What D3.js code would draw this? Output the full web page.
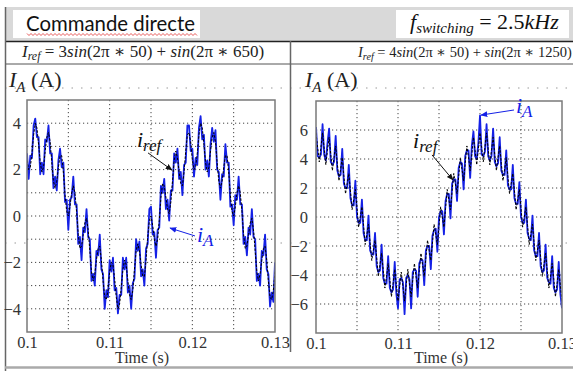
<!DOCTYPE html>
<html>
<head>
<meta charset="utf-8">
<script src="https://cdn.jsdelivr.net/npm/d3@7"></script>
<style>
  html, body { margin: 0; padding: 0; background: #fff; }
  svg { display: block; }
</style>
</head>
<body>
<svg id="chart" width="573" height="371"></svg>
<script>
  // sampling of the traces: t = 0.1 s + i * 0.2 ms
  const T0 = 0.1;
  const DT = 0.0002;

  const xTicks = [0.1, 0.11, 0.12, 0.13];
  const xGrid = [0.105, 0.11, 0.115, 0.12, 0.125];
  const leftYTicks = [-4, -2, 0, 2, 4];
  const leftYGrid = [-4, -3, -2, -1, 0, 1, 2, 3, 4];
  const rightYTicks = [-6, -4, -2, 0, 2, 4, 6];

  // left panel : reference current and measured current (A)
  const leftRef = [
    2.4, 2.0, 2.1, 2.7, 3.5, 4.0, 3.8, 3.1, 2.3, 1.9,
    2.1, 2.8, 3.4, 3.6, 3.2, 2.3, 1.5, 1.2, 1.5, 2.1,
    2.6, 2.6, 1.9, 0.9, 0.2, 0.0, 0.4, 1.0, 1.3, 1.0,
    0.2, -0.8, -1.4, -1.3, -0.8, -0.3, -0.1, -0.6, -1.5, -2.4,
    -2.8, -2.5, -1.9, -1.4, -1.3, -1.9, -2.8, -3.5, -3.6, -3.2,
    -2.4, -2.0, -2.1, -2.7, -3.5, -4.0, -3.8, -3.1, -2.3, -1.9,
    -2.1, -2.8, -3.4, -3.6, -3.2, -2.3, -1.5, -1.2, -1.5, -2.1,
    -2.6, -2.6, -1.9, -0.9, -0.2, 0.0, -0.4, -1.0, -1.3, -1.0,
    -0.2, 0.8, 1.4, 1.3, 0.8, 0.3, 0.1, 0.6, 1.5, 2.4,
    2.8, 2.5, 1.9, 1.4, 1.3, 1.9, 2.8, 3.5, 3.6, 3.2,
    2.4, 2.0, 2.1, 2.7, 3.5, 4.0, 3.8, 3.1, 2.3, 1.9,
    2.1, 2.8, 3.4, 3.6, 3.2, 2.3, 1.5, 1.2, 1.5, 2.1,
    2.6, 2.6, 1.9, 0.9, 0.2, 0.0, 0.4, 1.0, 1.3, 1.0,
    0.2, -0.8, -1.4, -1.3, -0.8, -0.3, -0.1, -0.6, -1.5, -2.4,
    -2.8, -2.5, -1.9, -1.4, -1.3, -1.9, -2.8, -3.5, -3.6, -3.2,
    -2.4
  ];
  const leftMeas = [
    2.7, 1.6, 2.6, 2.5, 3.9, 4.2, 3.4, 3.4, 1.8, 2.3,
    1.8, 3.3, 3.2, 3.9, 2.7, 2.7, 1.2, 1.7, 1.1, 2.4,
    2.9, 2.1, 2.3, 0.6, 0.7, -0.6, 0.7, 0.8, 1.7, 0.5,
    0.5, -1.2, -0.9, -1.9, -0.5, -0.7, 0.3, -0.9, -1.0, -2.8,
    -2.5, -3.0, -1.5, -1.7, -0.8, -2.3, -2.5, -4.0, -3.2, -3.5,
    -1.9, -2.4, -1.8, -3.2, -3.1, -4.2, -3.4, -3.4, -1.8, -2.3,
    -1.8, -3.3, -3.0, -4.0, -2.9, -2.7, -1.0, -1.5, -1.1, -2.6,
    -2.3, -3.0, -1.4, -1.2, 0.3, 0.4, -0.8, -0.7, -1.8, -0.6,
    -0.5, 1.3, 1.0, 1.6, 0.3, 0.7, -0.2, 1.1, 1.1, 2.7,
    2.3, 2.9, 1.6, 1.9, 0.9, 2.2, 2.3, 3.9, 3.9, 2.8,
    2.9, 1.7, 2.5, 2.2, 3.8, 4.3, 3.3, 3.5, 2.0, 2.4,
    1.7, 3.1, 3.8, 3.2, 3.7, 2.0, 1.9, 0.7, 1.8, 1.7,
    3.1, 2.3, 2.3, 0.4, 0.5, -0.4, 0.9, 0.7, 1.7, 0.5,
    0.5, -1.2, -0.9, -1.7, -0.5, -0.8, 0.3, -0.9, -1.0, -2.8,
    -2.5, -3.0, -1.5, -1.7, -0.8, -2.3, -2.5, -3.9, -3.3, -3.7,
    -2.0
  ];

  // right panel
  const rightRef = [
    5.8, 4.8, 3.8, 4.8, 5.8, 4.7, 3.6, 4.6, 5.5, 4.3,
    3.2, 4.1, 4.9, 3.7, 2.5, 3.3, 4.1, 2.8, 1.6, 2.3,
    3.0, 1.8, 0.5, 1.2, 1.9, 0.6, -0.7, 0.0, 0.7, -0.6,
    -1.9, -1.2, -0.5, -1.8, -3.0, -2.3, -1.6, -2.8, -4.1, -3.3,
    -2.5, -3.7, -4.9, -4.1, -3.2, -4.3, -5.5, -4.6, -3.6, -4.7,
    -5.8, -4.8, -3.8, -4.8, -5.8, -4.7, -3.6, -4.6, -5.5, -4.3,
    -3.2, -4.1, -4.9, -3.7, -2.5, -3.3, -4.1, -2.8, -1.6, -2.3,
    -3.0, -1.8, -0.5, -1.2, -1.9, -0.6, 0.7, 0.0, -0.7, 0.6,
    1.9, 1.2, 0.5, 1.8, 3.0, 2.3, 1.6, 2.8, 4.1, 3.3,
    2.5, 3.7, 4.9, 4.1, 3.2, 4.3, 5.5, 4.6, 3.6, 4.7,
    5.8, 4.8, 3.8, 4.8, 5.8, 4.7, 3.6, 4.6, 5.5, 4.3,
    3.2, 4.1, 4.9, 3.7, 2.5, 3.3, 4.1, 2.8, 1.6, 2.3,
    3.0, 1.8, 0.5, 1.2, 1.9, 0.6, -0.7, 0.0, 0.7, -0.6,
    -1.9, -1.2, -0.5, -1.8, -3.0, -2.3, -1.6, -2.8, -4.1, -3.3,
    -2.5, -3.7, -4.9, -4.1, -3.2, -4.3, -5.5, -4.6, -3.6, -4.7,
    -5.8
  ];
  const rightMeas = [
    6.2, 4.2, 4.1, 4.3, 6.4, 4.3, 3.9, 5.1, 6.1, 3.8,
    3.6, 3.8, 5.6, 3.2, 2.8, 2.9, 4.7, 2.3, 2.0, 2.0,
    3.6, 1.3, 0.8, 0.8, 2.5, 0.0, -0.4, -0.4, 1.2, -1.1,
    -1.6, -1.6, 0.1, -2.3, -2.6, -2.6, -1.1, -3.4, -3.8, -3.7,
    -1.9, -4.2, -4.6, -4.6, -2.7, -4.9, -5.2, -5.0, -3.1, -5.3,
    -6.3, -4.3, -4.2, -4.5, -6.7, -4.2, -4.0, -4.3, -6.3, -3.8,
    -3.6, -3.7, -5.5, -3.2, -2.9, -3.0, -4.7, -2.3, -2.0, -2.0,
    -3.6, -1.3, -0.9, -0.8, -2.4, 0.0, 0.4, 0.4, -1.2, 1.1,
    1.6, 1.6, -0.1, 2.3, 2.6, 2.6, 1.1, 3.4, 3.8, 3.7,
    1.9, 4.2, 4.6, 4.6, 2.7, 4.9, 5.9, 4.2, 4.0, 5.1,
    7.0, 4.3, 4.2, 4.5, 6.4, 4.2, 3.9, 4.2, 6.1, 3.8,
    3.5, 3.7, 5.5, 3.2, 2.9, 2.9, 4.6, 2.2, 1.9, 1.9,
    3.6, 1.3, 0.9, 0.9, 2.4, 0.0, -0.4, -0.4, 1.2, -1.1,
    -1.5, -1.6, 0.1, -2.3, -2.7, -2.7, -1.1, -3.4, -3.8, -3.7,
    -1.9, -4.2, -4.5, -4.6, -2.7, -4.9, -5.2, -5.0, -3.1, -5.3,
    -6.3
  ];

  const BLUE = '#1420e6';
  const SERIF = "'Liberation Serif', 'DejaVu Serif', serif";

  const svg = d3.select('#chart');

  const defs = svg.append('defs');
  [['arrow-k', '#111'], ['arrow-b', BLUE]].forEach(([id, col]) => {
    defs.append('marker')
      .attr('id', id)
      .attr('viewBox', '0 0 10 10')
      .attr('refX', 9).attr('refY', 5)
      .attr('markerWidth', 7).attr('markerHeight', 7)
      .attr('orient', 'auto')
      .append('path')
      .attr('d', 'M0,1 L10,5 L0,9 Z')
      .attr('fill', col);
  });

  // ---- table frame (header row, formula row) ----
  svg.append('rect')
    .attr('x', 5).attr('y', 7).attr('width', 568).attr('height', 34)
    .attr('fill', '#d9d9d9');
  svg.append('rect')
    .attr('x', 13).attr('y', 10).attr('width', 187).attr('height', 28)
    .attr('fill', '#fff');
  svg.append('rect')
    .attr('x', 396).attr('y', 10).attr('width', 173).attr('height', 28)
    .attr('fill', '#fff');

  svg.append('text')
    .attr('x', 26).attr('y', 31)
    .attr('textLength', 169).attr('lengthAdjust', 'spacingAndGlyphs')
    .style('font-family', "Lato, 'Open Sans', sans-serif")
    .style('font-size', '21px')
    .style('fill', '#111')
    .text('Commande directe');

  // spell-check underline
  const wave = d3.range(27, 198, 2).map((xx, k) => [xx, 34.5 + (k % 2 ? 1 : -1)]);
  svg.append('path')
    .attr('d', d3.line()(wave))
    .attr('fill', 'none')
    .attr('stroke', '#e03030')
    .attr('stroke-width', 0.8);

  const fsw = svg.append('text')
    .attr('x', 410).attr('y', 29)
    .style('font-family', SERIF)
    .style('font-size', '22px')
    .style('fill', '#111');
  fsw.append('tspan').style('font-style', 'italic').text('f');
  fsw.append('tspan').attr('dy', 4).style('font-style', 'italic').style('font-size', '15px').text('switching');
  fsw.append('tspan').attr('dy', -4).text(' = 2.5');
  fsw.append('tspan').style('font-style', 'italic').text('kHz');

  function formula(x0, size, amp, harm) {
    const t = svg.append('text')
      .attr('x', x0).attr('y', 57)
      .style('font-family', SERIF)
      .style('font-size', size + 'px')
      .style('fill', '#222');
    t.append('tspan').style('font-style', 'italic').text('I');
    t.append('tspan').attr('dy', 3).style('font-style', 'italic').style('font-size', (size * 0.7) + 'px').text('ref');
    t.append('tspan').attr('dy', -3).text(' = ' + amp);
    t.append('tspan').style('font-style', 'italic').text('sin');
    t.append('tspan').text('(2π ∗ 50) + ');
    t.append('tspan').style('font-style', 'italic').text('sin');
    t.append('tspan').text('(2π ∗ ' + harm + ')');
  }
  formula(22, 17, '3', '650');
  formula(358, 14.5, '4', '1250');

  // faint dotted grid of the document table
  [88, 243].forEach(yy => {
    svg.append('line')
      .attr('x1', 5).attr('x2', 573).attr('y1', yy).attr('y2', yy)
      .attr('stroke', '#999')
      .attr('stroke-dasharray', '1.5,8');
  });

  svg.append('line').attr('x1', 5).attr('x2', 573).attr('y1', 41.5).attr('y2', 41.5)
    .attr('stroke', '#222').attr('stroke-width', 1.6);
  svg.append('line').attr('x1', 5).attr('x2', 573).attr('y1', 64).attr('y2', 64)
    .attr('stroke', '#555').attr('stroke-width', 1);
  svg.append('line').attr('x1', 5.5).attr('x2', 5.5).attr('y1', 7).attr('y2', 371)
    .attr('stroke', '#666').attr('stroke-width', 1.5);
  svg.append('line').attr('x1', 290.5).attr('x2', 290.5).attr('y1', 41).attr('y2', 352)
    .attr('stroke', '#666').attr('stroke-width', 1.5);
  svg.append('line').attr('x1', 5).attr('x2', 573).attr('y1', 367.5).attr('y2', 367.5)
    .attr('stroke', '#aaa').attr('stroke-width', 2.5);

  // ---- one scope panel ----
  function drawPanel(p) {
    const x = d3.scaleLinear().domain([0.1, 0.13]).range([p.left, p.right]);
    const y = d3.scaleLinear().domain(p.yDomain).range([p.bottom, p.top]);
    const g = svg.append('g');

    g.append('rect')
      .attr('x', p.left).attr('y', p.top)
      .attr('width', p.right - p.left).attr('height', p.bottom - p.top)
      .attr('fill', '#fff');

    defs.append('clipPath').attr('id', p.id + '-clip')
      .append('rect')
      .attr('x', p.left).attr('y', p.top)
      .attr('width', p.right - p.left).attr('height', p.bottom - p.top);

    g.append('g').selectAll('line')
      .data(xGrid)
      .join('line')
      .attr('x1', d => x(d)).attr('x2', d => x(d))
      .attr('y1', p.top).attr('y2', p.bottom)
      .attr('stroke', '#444')
      .attr('stroke-width', 1)
      .attr('stroke-dasharray', '1.2,2.8');

    g.append('g').selectAll('line')
      .data(p.yGrid)
      .join('line')
      .attr('x1', p.left).attr('x2', p.right)
      .attr('y1', d => y(d)).attr('y2', d => y(d))
      .attr('stroke', '#444')
      .attr('stroke-width', 1)
      .attr('stroke-dasharray', '1.2,2.8');

    const line = d3.line()
      .x((d, i) => x(T0 + i * DT))
      .y(d => y(d));

    const traces = g.append('g').attr('clip-path', `url(#${p.id}-clip)`);
    traces.append('path')
      .attr('d', line(p.meas))
      .attr('fill', 'none')
      .attr('stroke', BLUE)
      .attr('stroke-width', 1.8)
      .attr('stroke-linejoin', 'round');
    traces.append('path')
      .attr('d', line(p.ref))
      .attr('fill', 'none')
      .attr('stroke', '#000')
      .attr('stroke-width', 1)
      .attr('stroke-dasharray', '2.5,1.5');

    g.append('rect')
      .attr('x', p.left).attr('y', p.top)
      .attr('width', p.right - p.left).attr('height', p.bottom - p.top)
      .attr('fill', 'none')
      .attr('stroke', '#7a7a7a')
      .attr('stroke-width', 1.5);

    const xAxis = g.append('g')
      .attr('transform', `translate(0,${p.bottom})`)
      .call(d3.axisBottom(x).tickValues(xTicks).tickSize(0).tickPadding(4)
        .tickFormat(d3.format('')));
    const yAxis = g.append('g')
      .attr('transform', `translate(${p.left},0)`)
      .call(d3.axisLeft(y).tickValues(p.yTicks).tickSize(0).tickPadding(p.yPad));
    [xAxis, yAxis].forEach(a => {
      a.select('.domain').remove();
      a.selectAll('text')
        .style('font-family', SERIF)
        .style('font-size', '16.5px')
        .style('fill', '#333');
    });

    g.append('text')
      .attr('x', p.timeX).attr('y', 363)
      .attr('text-anchor', 'middle')
      .style('font-family', SERIF)
      .style('font-size', '16px')
      .style('fill', '#333')
      .text('Time (s)');

    const yl = g.append('text')
      .attr('x', p.labelX).attr('y', 87)
      .style('font-family', SERIF)
      .style('font-size', '22px')
      .style('fill', '#222');
    yl.append('tspan').style('font-style', 'italic').text('I');
    yl.append('tspan').attr('dy', 5).style('font-style', 'italic').style('font-size', '15px').text('A');
    yl.append('tspan').attr('dy', -5).text(' (A)');

    p.notes.forEach(n => {
      const col = n.sub === 'A' ? BLUE : '#111';
      g.append('line')
        .attr('x1', x(n.from[0])).attr('y1', y(n.from[1]))
        .attr('x2', x(n.to[0])).attr('y2', y(n.to[1]))
        .attr('stroke', col)
        .attr('stroke-width', 1)
        .attr('marker-end', `url(#${n.sub === 'A' ? 'arrow-b' : 'arrow-k'})`);
      const t = g.append('text')
        .attr('x', x(n.at[0])).attr('y', y(n.at[1]))
        .style('font-family', SERIF)
        .style('font-style', 'italic')
        .style('font-size', '22px')
        .style('fill', col);
      t.append('tspan').text('i');
      t.append('tspan').attr('dy', 4).style('font-size', '17px').text(n.sub);
    });
  }

  drawPanel({
    id: 'left', left: 27, right: 275, top: 100, bottom: 332,
    yDomain: [-5, 5], yTicks: leftYTicks, yGrid: leftYGrid, yPad: 6,
    ref: leftRef, meas: leftMeas, timeX: 142, labelX: 9,
    notes: [
      { sub: 'ref', at: [0.1133, 2.97], from: [0.11464, 2.72], to: [0.11754, 1.98] },
      { sub: 'A', at: [0.12056, -1.1], from: [0.12032, -0.86], to: [0.1173, -0.52] }
    ]
  });

  drawPanel({
    id: 'right', left: 316, right: 562, top: 101, bottom: 333,
    yDomain: [-8, 8], yTicks: rightYTicks, yGrid: rightYTicks, yPad: 8,
    ref: rightRef, meas: rightMeas, timeX: 441, labelX: 305,
    notes: [
      { sub: 'ref', at: [0.11183, 4.76], from: [0.11415, 4.28], to: [0.11671, 2.55] },
      { sub: 'A', at: [0.12439, 7.17], from: [0.12415, 7.38], to: [0.12012, 7.03] }
    ]
  });
</script>
</body>
</html>
